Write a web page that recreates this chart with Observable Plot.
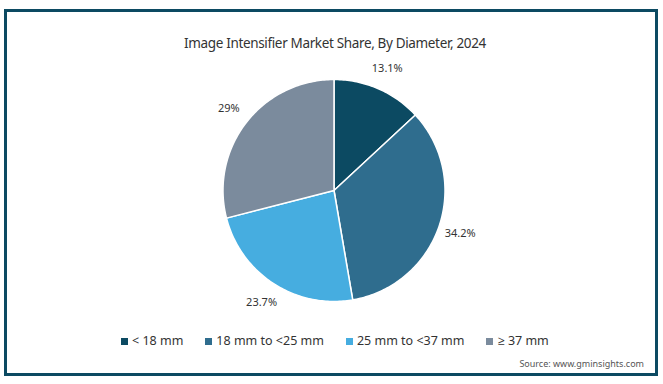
<!DOCTYPE html>
<html>
<head>
<meta charset="utf-8">
<script src="https://cdn.jsdelivr.net/npm/d3@7"></script>
<script src="https://cdn.jsdelivr.net/npm/@observablehq/plot@0.6"></script>
<style>
  html, body { margin: 0; padding: 0; background: #fff; width: 663px; height: 384px; overflow: hidden; }
  body { font-family: "Noto Sans", "Open Sans", sans-serif; color: #333; position: relative; }
  #frame { position: absolute; left: 4px; top: 9px; width: 654px; height: 367px; box-sizing: border-box; border: 3px solid #0c4a62; }
  #title { position: absolute; left: 0; width: 670px; top: 33px; text-align: center; font-size: 13.5px; letter-spacing: -0.35px; color: #333; line-height: 20px; }
  #chart { position: absolute; left: 0; top: 0; }
  #legend { position: absolute; top: 332px; left: 121px; display: flex; align-items: center; font-size: 12.5px; color: #333; line-height: 18px; }
  .item { display: flex; align-items: center; margin-right: 22px; }
  .sw { width: 7px; height: 7px; margin-right: 4px; }
  #source { position: absolute; right: 19px; top: 357px; font-size: 9px; color: #555; }
</style>
</head>
<body>
<div id="frame"></div>
<div id="chart"></div>
<div id="title">Image Intensifier Market Share, By Diameter, 2024</div>
<div id="legend"></div>
<div id="source">Source: www.gminsights.com</div>
<script>
const categories = ["< 18 mm", "18 mm to <25 mm", "25 mm to <37 mm", "≥ 37 mm"];
const shares = [13.1, 34.2, 23.7, 29];
const shareLabels = ["13.1%", "34.2%", "23.7%", "29%"];
const colors = ["#0c4a62", "#2f6d8e", "#46ade0", "#7b8b9d"];

const W = 663, H = 384, cx = 333.5, cy = 190, R = 111;

const pie = d3.pie().sort(null).value(d => d.value)(categories.map((c, i) => ({key: c, value: shares[i], label: shareLabels[i]})));

const slicePts = [];
for (const s of pie) {
  const key = s.data.key;
  slicePts.push({key, x: 0, y: 0});
  const n = Math.max(2, Math.ceil((s.endAngle - s.startAngle) / (Math.PI / 180)));
  for (let k = 0; k <= n; k++) {
    const a = s.startAngle + (s.endAngle - s.startAngle) * k / n;
    slicePts.push({key, x: Math.sin(a), y: Math.cos(a)});
  }
  slicePts.push({key, x: 0, y: 0});
}
const labelPts = pie.map(s => {
  const a = (s.startAngle + s.endAngle) / 2;
  return {label: s.data.label, x: 1.2 * Math.sin(a), y: 1.2 * Math.cos(a)};
});

const chart = Plot.plot({
  width: W, height: H,
  margin: 0,
  x: {domain: [-cx / R, (W - cx) / R], axis: null},
  y: {domain: [-(H - cy) / R, cy / R], axis: null},
  color: {domain: categories, range: colors},
  style: {background: "transparent", fontFamily: "'Noto Sans', sans-serif"},
  marks: [
    Plot.line(slicePts, {x: "x", y: "y", z: "key", fill: "key", stroke: "white", strokeWidth: 1.5, strokeLinejoin: "round", curve: "linear"}),
    Plot.text(labelPts, {x: "x", y: "y", text: "label", fontSize: 11, fill: "#333"})
  ]
});
document.getElementById("chart").appendChild(chart);

const legend = document.getElementById("legend");
categories.forEach((c, i) => {
  const it = document.createElement("div");
  it.className = "item";
  const sw = document.createElement("div");
  sw.className = "sw";
  sw.style.background = colors[i];
  const t = document.createElement("span");
  t.textContent = c;
  it.appendChild(sw); it.appendChild(t);
  legend.appendChild(it);
});
</script>
</body>
</html>
